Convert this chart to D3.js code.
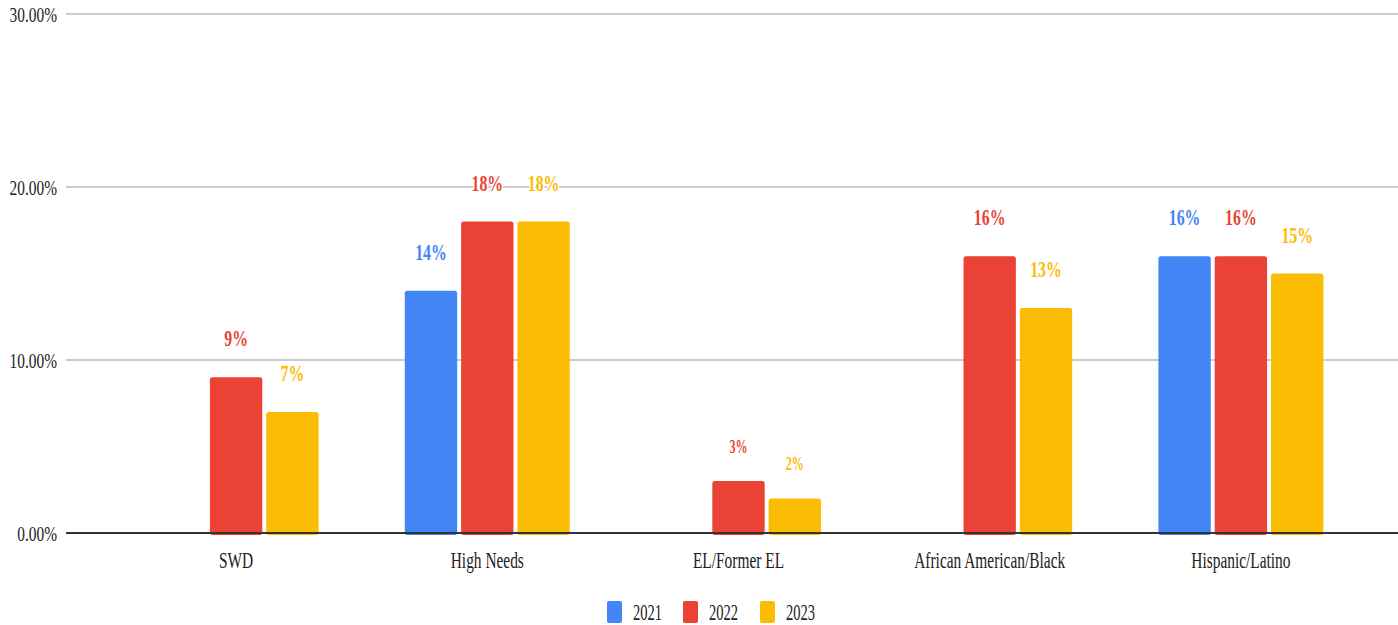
<!DOCTYPE html>
<html>
<head>
<meta charset="utf-8">
<script src="https://cdn.jsdelivr.net/npm/d3@7"></script>
<style>
  html, body { margin: 0; padding: 0; background: #fff; }
  svg { display: block; }
  text { font-family: "Liberation Serif", "Times New Roman", serif; }
</style>
</head>
<body>
<svg id="chart" width="1398" height="625"></svg>
<script>
// Student groups and yearly percentages
const categories = ["SWD", "High Needs", "EL/Former EL", "African American/Black", "Hispanic/Latino"];
const years = ["2021", "2022", "2023"];
const values2021 = [null, 14, null, null, 16];
const values2022 = [9, 18, 3, 16, 16];
const values2023 = [7, 18, 2, 13, 15];
const yTicks = [0, 10, 20, 30];
const colors = ["#4285f4", "#ea4335", "#fbbc04"];

const series = [values2021, values2022, values2023];
const W = 1398, H = 625;
const svg = d3.select("#chart");

const y = d3.scaleLinear().domain([0, 30]).range([533, 14]);
const x0 = d3.scaleBand().domain(categories).range([110.5, 1366.5]);
const groupW = 165;
const x1 = d3.scaleBand().domain(years)
  .range([(x0.bandwidth() - groupW) / 2, (x0.bandwidth() + groupW) / 2])
  .paddingInner(0.07);

// Text is drawn in a horizontally condensed serif
function squeezed(sel, x, yPos, sx) {
  return sel.attr("transform", `translate(${x},${yPos}) scale(${sx},1)`);
}

// Gridlines
svg.append("g").selectAll("line").data(yTicks.filter(d => d > 0)).join("line")
  .attr("x1", 66).attr("x2", W)
  .attr("y1", d => y(d)).attr("y2", d => y(d))
  .attr("stroke", "#cccccc").attr("stroke-width", 2);

// Y tick labels
svg.append("g").selectAll("text").data(yTicks).join("text")
  .each(function(d) { squeezed(d3.select(this), 57, y(d) + 8, 0.7); })
  .attr("text-anchor", "end")
  .attr("font-size", 22)
  .attr("fill", "#222")
  .text(d => d3.format(".2f")(d) + "%");

// Bars and value labels
const groups = svg.append("g").selectAll("g").data(categories).join("g")
  .attr("transform", c => `translate(${x0(c)},0)`);

groups.each(function(c, ci) {
  const g = d3.select(this);
  const pts = years.map((yr, si) => ({ yr, si, v: series[si][ci] })).filter(p => p.v != null);
  g.selectAll("rect").data(pts).join("rect")
    .attr("x", p => x1(p.yr))
    .attr("width", x1.bandwidth())
    .attr("y", p => y(p.v))
    .attr("height", p => y(0) - y(p.v) + 2)
    .attr("rx", 2.5)
    .attr("fill", p => colors[p.si]);

  const small = c === "EL/Former EL";
  g.selectAll("text").data(pts).join("text")
    .each(function(p) {
      squeezed(d3.select(this), x1(p.yr) + x1.bandwidth() / 2, y(p.v) - (small ? 28 : 31), small ? 0.67 : 0.66);
    })
    .attr("text-anchor", "middle")
    .attr("font-size", small ? 18 : 24)
    .attr("font-weight", "bold")
    .attr("fill", p => colors[p.si])
    .attr("stroke", "#fff").attr("stroke-width", 4)
    .attr("stroke-linejoin", "round")
    .attr("paint-order", "stroke")
    .text(p => p.v + "%");
});

// Baseline
svg.append("line")
  .attr("x1", 66).attr("x2", W)
  .attr("y1", y(0)).attr("y2", y(0))
  .attr("stroke", "#333").attr("stroke-width", 2);

// Category labels
svg.append("g").selectAll("text").data(categories).join("text")
  .each(function(c) { squeezed(d3.select(this), x0(c) + x0.bandwidth() / 2, 568, 0.67); })
  .attr("text-anchor", "middle")
  .attr("font-size", 23)
  .attr("fill", "#222")
  .text(c => c);

// Legend
const legendX = [607, 683, 760];
const legend = svg.append("g").selectAll("g").data(years).join("g")
  .attr("transform", (d, i) => `translate(${legendX[i]},601)`);
legend.append("rect")
  .attr("width", 15).attr("height", 22).attr("rx", 2)
  .attr("fill", (d, i) => colors[i]);
legend.append("text")
  .each(function() { squeezed(d3.select(this), 26, 19, 0.63); })
  .attr("font-size", 23)
  .attr("fill", "#222")
  .text(d => d);
</script>
</body>
</html>
